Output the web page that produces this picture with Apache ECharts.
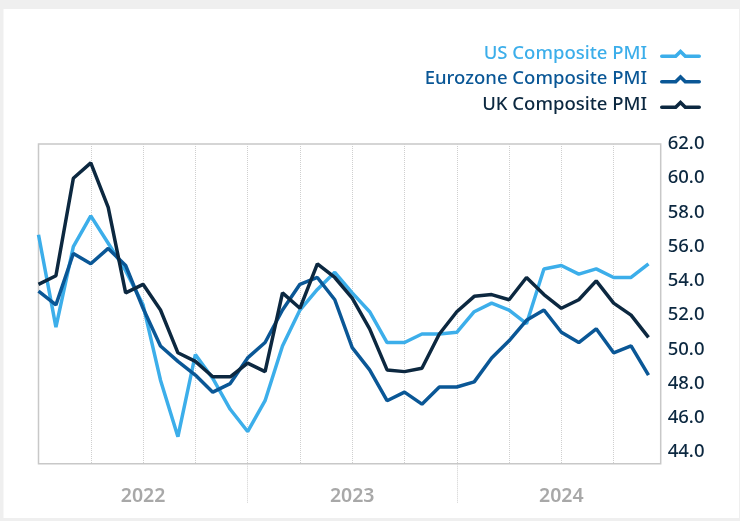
<!DOCTYPE html>
<html>
<head>
<meta charset="utf-8">
<script src="https://cdn.jsdelivr.net/npm/echarts@6/dist/echarts.min.js"></script>
<style>
  html, body { margin: 0; padding: 0; background: #efefef; }
  #main { width: 740px; height: 521px; }
</style>
</head>
<body>
<div id="main"></div>
<script>
// monthly readings, Dec 2021 .. Nov 2024
var months = ['Dec 21','Jan 22','Feb 22','Mar 22','Apr 22','May 22','Jun 22','Jul 22','Aug 22','Sep 22','Oct 22','Nov 22',
  'Dec 22','Jan 23','Feb 23','Mar 23','Apr 23','May 23','Jun 23','Jul 23','Aug 23','Sep 23','Oct 23','Nov 23',
  'Dec 23','Jan 24','Feb 24','Mar 24','Apr 24','May 24','Jun 24','Jul 24','Aug 24','Sep 24','Oct 24','Nov 24'];
var usPmi = [56.7, 51.3, 56.0, 57.8, 56.2, 54.6, 52.6, 48.2, 44.9, 49.7, 48.3, 46.5,
  45.2, 47.0, 50.2, 52.3, 53.5, 54.5, 53.3, 52.2, 50.4, 50.4, 50.9, 50.9,
  51.0, 52.2, 52.7, 52.3, 51.5, 54.7, 54.9, 54.4, 54.7, 54.2, 54.2, 55.0];
var euroPmi = [53.4, 52.6, 55.6, 55.0, 55.9, 54.9, 52.4, 50.2, 49.3, 48.5, 47.5, 48.0,
  49.5, 50.4, 52.3, 53.8, 54.2, 52.9, 50.1, 48.8, 47.0, 47.5, 46.8, 47.8,
  47.8, 48.1, 49.5, 50.5, 51.7, 52.3, 51.0, 50.4, 51.2, 49.8, 50.2, 48.5];
var ukPmi = [53.8, 54.3, 60.0, 60.9, 58.3, 53.3, 53.8, 52.3, 49.8, 49.3, 48.4, 48.4,
  49.2, 48.7, 53.3, 52.4, 55.0, 54.2, 53.0, 51.2, 48.8, 48.7, 48.9, 50.9,
  52.2, 53.1, 53.2, 52.9, 54.2, 53.2, 52.4, 52.9, 54.0, 52.7, 52.0, 50.7];

var yTicks = [44, 46, 48, 50, 52, 54, 56, 58, 60, 62];
var quarterTicks = [3, 6, 9, 12, 15, 18, 21, 24, 27, 30, 33];
var yearBreaks = [12, 24];
var yearPos = [6, 18, 30];
var yearNames = ['2022', '2023', '2024'];

var seriesNames = ['US Composite PMI', 'Eurozone Composite PMI', 'UK Composite PMI'];
var colors = ['#3caeea', '#0a5796', '#0c2840'];

function toPoints(arr) {
  var out = [];
  for (var i = 0; i < arr.length; i++) out.push([i, arr[i]]);
  return out;
}

var chart = echarts.init(document.getElementById('main'));
var font = 'Noto Sans';
// flat line with a small caret in the middle
var icon = 'path://M1.5,6.5 L14.5,6.5 L20,1 L25.5,6.5 L38.5,6.5 A1.75,1.75 0 0 1 38.5,10 L24,10 L20,6 L16,10 L1.5,10 A1.75,1.75 0 0 1 1.5,6.5 Z';

var option = {
  animation: false,
  backgroundColor: '#efefef',
  textStyle: { fontFamily: font },
  graphic: [{
    type: 'rect', z: -10,
    shape: { x: 3.5, y: 9, width: 735.5, height: 509 },
    style: { fill: '#ffffff' }
  }],
  legend: {
    orient: 'vertical',
    align: 'right',
    right: 34,
    top: 38,
    itemWidth: 41,
    itemHeight: 10,
    itemGap: 4.5,
    icon: icon,
    textStyle: { fontSize: 18.5, lineHeight: 21, fontWeight: 500, fontFamily: font, padding: [0, 8, 0, 0] },
    data: seriesNames.map(function (n, i) {
      return { name: n, itemStyle: { color: colors[i] }, textStyle: { color: colors[i] } };
    })
  },
  grid: {
    left: 38.5, right: 79.3, top: 144, bottom: 57.3,
    show: true, borderColor: '#c8c8c8', borderWidth: 1.5, backgroundColor: 'transparent'
  },
  xAxis: [{
    type: 'value', min: 0, max: 35.7, position: 'bottom',
    axisLine: { show: false },
    axisTick: { show: false, customValues: quarterTicks },
    axisLabel: { show: false },
    splitLine: { show: true, lineStyle: { color: '#cfcfcf', type: 'dotted', width: 1 } }
  }, {
    type: 'value', min: 0, max: 35.7, position: 'bottom',
    axisLine: { show: false },
    axisTick: { show: true, customValues: yearBreaks, length: 40, lineStyle: { color: '#cfcfcf', type: 'dotted', width: 1 } },
    axisLabel: {
      show: true, customValues: yearPos, margin: 23,
      color: '#a8a8a8', fontSize: 19.5, fontWeight: 600, fontFamily: font,
      formatter: function (v) { return yearNames[yearPos.indexOf(Math.round(v))] || ''; }
    },
    splitLine: { show: false }
  }],
  yAxis: {
    type: 'value', min: 43.32, max: 62, position: 'right',
    axisLine: { show: false },
    axisTick: { show: false },
    splitLine: { show: false },
    axisLabel: {
      customValues: yTicks, margin: 7,
      color: '#0c2840', fontSize: 18.5, fontWeight: 500, fontFamily: font,
      formatter: function (v) { return v.toFixed(1); }
    }
  },
  series: [
    { name: seriesNames[0], type: 'line', data: toPoints(usPmi), showSymbol: false, lineStyle: { width: 3.5, color: colors[0] }, itemStyle: { color: colors[0] } },
    { name: seriesNames[1], type: 'line', data: toPoints(euroPmi), showSymbol: false, lineStyle: { width: 3.5, color: colors[1] }, itemStyle: { color: colors[1] } },
    { name: seriesNames[2], type: 'line', data: toPoints(ukPmi), showSymbol: false, lineStyle: { width: 3.5, color: colors[2] }, itemStyle: { color: colors[2] } }
  ]
};
chart.setOption(option);
</script>
</body>
</html>
